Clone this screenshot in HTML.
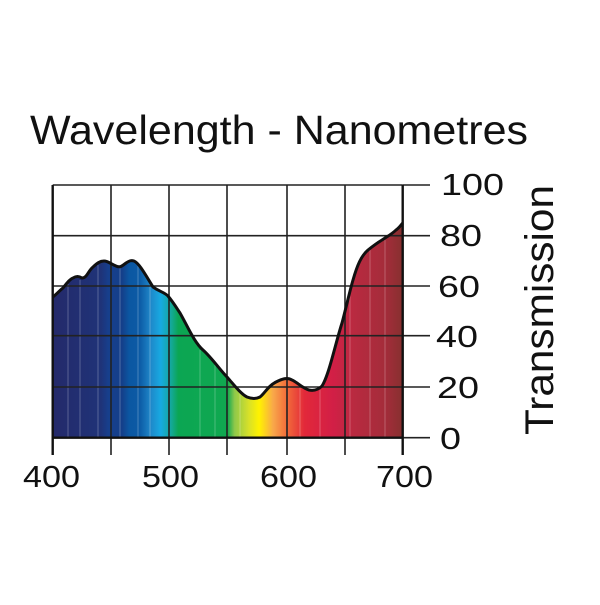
<!DOCTYPE html>
<html><head><meta charset="utf-8"><style>html,body{margin:0;padding:0;background:#fff}</style></head>
<body>
<svg width="600" height="600" viewBox="0 0 600 600" xmlns="http://www.w3.org/2000/svg" font-family="Liberation Sans, Arial, sans-serif">
<defs>
<linearGradient id="g" gradientUnits="userSpaceOnUse" x1="52" y1="0" x2="403" y2="0">
<stop offset="0" stop-color="#24296a"/>
<stop offset="0.14" stop-color="#1f3378"/>
<stop offset="0.16" stop-color="#173f8c"/>
<stop offset="0.2" stop-color="#143f8a"/>
<stop offset="0.22" stop-color="#0b57a2"/>
<stop offset="0.25" stop-color="#0c5ba5"/>
<stop offset="0.28" stop-color="#1f86c8"/>
<stop offset="0.31" stop-color="#17aae2"/>
<stop offset="0.34" stop-color="#14a898"/>
<stop offset="0.36" stop-color="#0ba653"/>
<stop offset="0.5" stop-color="#10a850"/>
<stop offset="0.52" stop-color="#8fc84a"/>
<stop offset="0.56" stop-color="#d6e02a"/>
<stop offset="0.59" stop-color="#fff200"/>
<stop offset="0.63" stop-color="#f8a84a"/>
<stop offset="0.67" stop-color="#f26a3a"/>
<stop offset="0.72" stop-color="#e2283a"/>
<stop offset="0.8" stop-color="#d21f46"/>
<stop offset="0.86" stop-color="#b92a40"/>
<stop offset="0.95" stop-color="#a42c3a"/>
<stop offset="1" stop-color="#86302f"/>
</linearGradient>
</defs>
<text x="30" y="144" font-size="41" fill="#111" textLength="498" lengthAdjust="spacingAndGlyphs">Wavelength - Nanometres</text>
<path d="M52.7,297 C57,294 60,290 63,288 C67,283 70,279 73,278 C76,276 79,276 82,278 C87,278 88,271 93,267 C97,263 100,261 104,261 C108,261 111,264 116,266 C120,268 122,266 126,263 C129,261 131,260 134,261 C139,263 145,274 153,287 C160,292 164,292 168,296 C173,302 176,307 180,313 C188,327 194,342 203,350 C212,358 220,370 227,377 C234,385 241,394 247,397 C252,399 256,399 260,397 C265,393 268,386 276,382 C282,379 287,377 292,380 C297,382 302,388 309,390 C314,391 318,390 322,386 C329,375 335,345 342,323 C346,308 350,290 353,280 C357,266 361,256 368,250 C373,246 377,243 382,240 C388,236 392,234 396,230 C399,228 401,225 402.7,223 L402.7,437.7 L52.7,437.7 Z" fill="url(#g)"/>
<g stroke="#fff" stroke-opacity="0.25" stroke-width="1">
<line x1="68" y1="280" x2="68" y2="437"/><line x1="80" y1="280" x2="80" y2="437"/><line x1="98" y1="265" x2="98" y2="437"/><line x1="120" y1="265" x2="120" y2="437"/><line x1="138" y1="265" x2="138" y2="437"/><line x1="150" y1="280" x2="150" y2="437"/><line x1="200" y1="350" x2="200" y2="437"/><line x1="215" y1="360" x2="215" y2="437"/><line x1="240" y1="390" x2="240" y2="437"/><line x1="300" y1="385" x2="300" y2="437"/><line x1="320" y1="390" x2="320" y2="437"/><line x1="350" y1="290" x2="350" y2="437"/><line x1="370" y1="250" x2="370" y2="437"/><line x1="385" y1="240" x2="385" y2="437"/>
</g>
<g stroke="#222" stroke-width="1.6" fill="none">
<line x1="52.7" y1="235.7" x2="430" y2="235.7"/>
<line x1="52.7" y1="286" x2="430" y2="286"/>
<line x1="52.7" y1="335.7" x2="430" y2="335.7"/>
<line x1="52.7" y1="387" x2="430" y2="387"/>
<line x1="402.7" y1="437.7" x2="430" y2="437.7"/>
<line x1="402.7" y1="185" x2="430" y2="185"/>
<line x1="52.7" y1="185" x2="402.7" y2="185"/>
<line x1="111" y1="185" x2="111" y2="455"/>
<line x1="169" y1="185" x2="169" y2="455"/>
<line x1="227" y1="185" x2="227" y2="455"/>
<line x1="287" y1="185" x2="287" y2="455"/>
<line x1="345" y1="185" x2="345" y2="455"/>
</g>
<g stroke="#111" stroke-width="2.4" fill="none">
<line x1="52.7" y1="185" x2="52.7" y2="455"/>
<line x1="402.7" y1="185" x2="402.7" y2="455"/>
<line x1="52.7" y1="437.7" x2="402.7" y2="437.7"/>
<path d="M52.7,297 C57,294 60,290 63,288 C67,283 70,279 73,278 C76,276 79,276 82,278 C87,278 88,271 93,267 C97,263 100,261 104,261 C108,261 111,264 116,266 C120,268 122,266 126,263 C129,261 131,260 134,261 C139,263 145,274 153,287 C160,292 164,292 168,296 C173,302 176,307 180,313 C188,327 194,342 203,350 C212,358 220,370 227,377 C234,385 241,394 247,397 C252,399 256,399 260,397 C265,393 268,386 276,382 C282,379 287,377 292,380 C297,382 302,388 309,390 C314,391 318,390 322,386 C329,375 335,345 342,323 C346,308 350,290 353,280 C357,266 361,256 368,250 C373,246 377,243 382,240 C388,236 392,234 396,230 C399,228 401,225 402.7,223" stroke-width="3"/>
</g>
<g font-size="31" fill="#111">
<text x="441" y="195" textLength="63" lengthAdjust="spacingAndGlyphs">100</text>
<text x="440" y="246" textLength="42" lengthAdjust="spacingAndGlyphs">80</text>
<text x="438" y="297" textLength="42" lengthAdjust="spacingAndGlyphs">60</text>
<text x="436" y="347" textLength="42" lengthAdjust="spacingAndGlyphs">40</text>
<text x="437" y="398" textLength="42" lengthAdjust="spacingAndGlyphs">20</text>
<text x="440" y="449" textLength="21" lengthAdjust="spacingAndGlyphs">0</text>
</g>
<g font-size="31" fill="#111">
<text x="23" y="487" textLength="57" lengthAdjust="spacingAndGlyphs">400</text>
<text x="142" y="487" textLength="57" lengthAdjust="spacingAndGlyphs">500</text>
<text x="260" y="487" textLength="57" lengthAdjust="spacingAndGlyphs">600</text>
<text x="376" y="487" textLength="57" lengthAdjust="spacingAndGlyphs">700</text>
</g>
<text transform="translate(553,310) rotate(-90)" font-size="40" fill="#111" text-anchor="middle" textLength="250" lengthAdjust="spacingAndGlyphs">Transmission</text>
</svg>
</body></html>
